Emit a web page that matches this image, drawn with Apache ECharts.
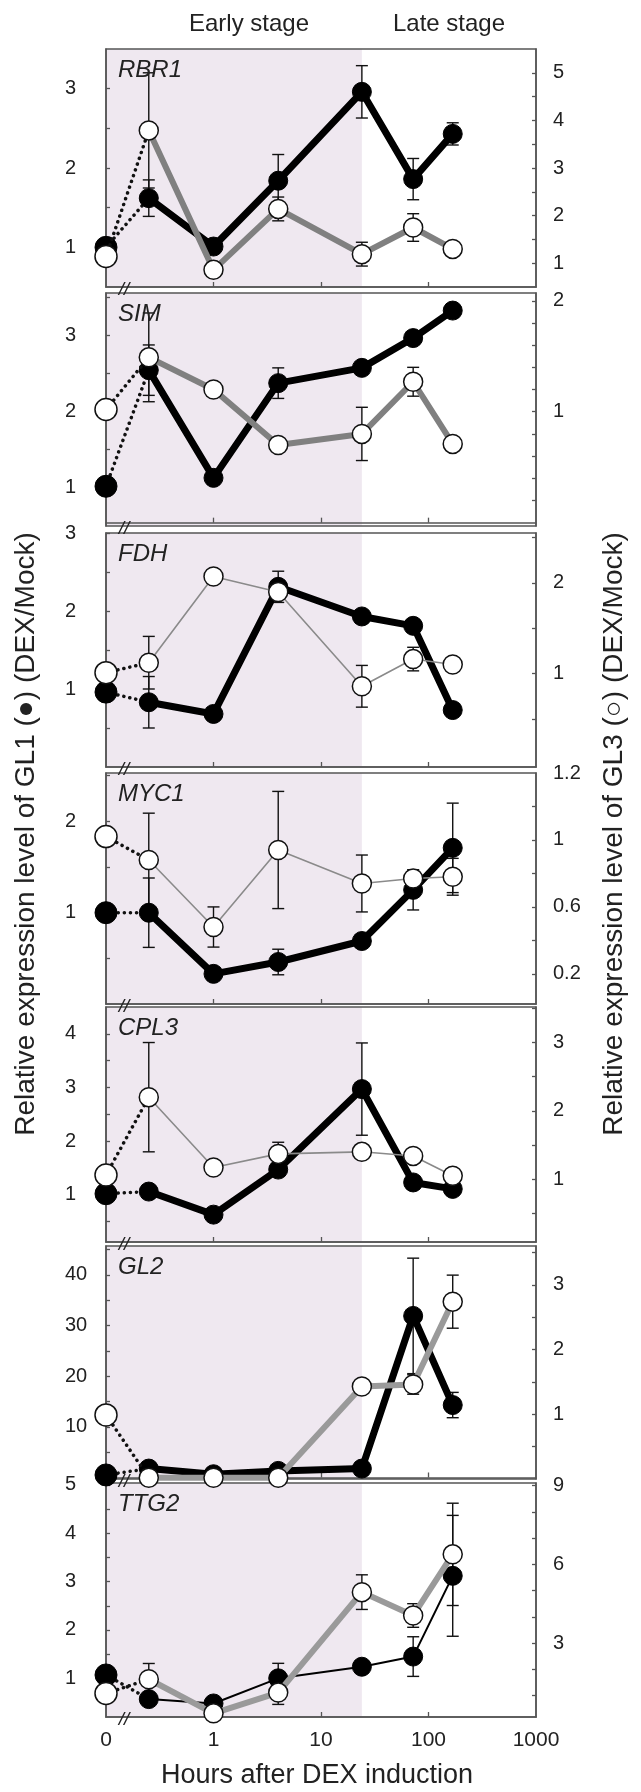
<!DOCTYPE html>
<html><head><meta charset="utf-8">
<script src="https://cdn.jsdelivr.net/npm/echarts@6/dist/echarts.min.js"></script>
<style>html,body{margin:0;padding:0;background:#fff}#c{width:641px;height:1792px}</style>
</head><body><div id="c"></div>
<script>
// ---------------- data ----------------
const HOURS = [0, 0.25, 1, 4, 24, 72, 168];          // 0 is drawn at the axis origin (0.1)
const ZERO_AT = 0.1;
const EARLY_END = 24;                                  // shaded "Early stage" up to 24 h
const X_TICKS = [1, 10, 100];
const X_LABELS = [0.1, 1, 10, 100, 1000];
const GENES = ['RBR1', 'SIM', 'FDH', 'MYC1', 'CPL3', 'GL2', 'TTG2'];

const RBR1_GL1 = [1.0, 1.62, 1.01, 1.84, 2.96, 1.86, 2.43];
const RBR1_GL1_ERR = [0, 0.23, 0, 0.33, 0.33, 0.26, 0.14];
const RBR1_GL3 = [1.14, 3.79, 0.86, 2.14, 1.19, 1.75, 1.30];
const RBR1_GL3_ERR = [0, 1.21, 0, 0.25, 0.25, 0.29, 0];

const SIM_GL1 = [1.02, 2.54, 1.13, 2.37, 2.57, 2.96, 3.32];
const SIM_GL1_ERR = [0, 0.33, 0, 0.2, 0, 0, 0];
const SIM_GL3 = [1.02, 1.49, 1.20, 0.70, 0.80, 1.27, 0.71];
const SIM_GL3_ERR = [0, 0.40, 0, 0, 0.24, 0.13, 0];

const FDH_GL1 = [0.96, 0.83, 0.68, 2.31, 1.93, 1.81, 0.73];
const FDH_GL1_ERR = [0, 0.33, 0, 0.2, 0, 0, 0];
const FDH_GL3 = [1.01, 1.12, 2.07, 1.90, 0.86, 1.16, 1.10];
const FDH_GL3_ERR = [0, 0.29, 0, 0, 0.23, 0.13, 0];

const MYC1_GL1 = [1.0, 1.0, 0.33, 0.46, 0.69, 1.25, 1.71];
const MYC1_GL1_ERR = [0, 0.38, 0, 0.14, 0, 0.22, 0.49];
const MYC1_GL3 = [1.02, 0.88, 0.48, 0.94, 0.74, 0.77, 0.78];
const MYC1_GL3_ERR = [0, 0.28, 0.12, 0.35, 0.17, 0.05, 0.11];

const CPL3_GL1 = [1.02, 1.06, 0.63, 1.47, 2.97, 1.23, 1.11];
const CPL3_GL1_ERR = [0, 0, 0, 0, 0.86, 0, 0];
const CPL3_GL3 = [1.06, 2.20, 1.17, 1.37, 1.40, 1.34, 1.05];
const CPL3_GL3_ERR = [0, 0.8, 0, 0.17, 0, 0, 0];

const GL2_GL1 = [0.5, 1.76, 0.64, 1.3, 1.76, 31.9, 14.3];
const GL2_GL1_ERR = [0, 0, 0, 0, 0, 11.4, 2.5];
const GL2_GL3 = [0.99, 0.02, 0.02, 0.02, 1.43, 1.46, 2.74];
const GL2_GL3_ERR = [0, 0, 0, 0, 0, 0.15, 0.41];

const TTG2_GL1 = [1.07, 0.57, 0.48, 1.0, 1.24, 1.45, 3.12];
const TTG2_GL1_ERR = [0, 0, 0, 0.31, 0, 0.41, 1.25];
const TTG2_GL3 = [1.08, 1.62, 0.32, 1.11, 4.94, 4.05, 6.38];
const TTG2_GL3_ERR = [0, 0.6, 0, 0.45, 0.66, 0.45, 1.95];

// axis extents, ticks and tick labels (left = GL1, right = GL3)
const LEFT_RANGES = [[0.5, 3.5], [0.5, 3.55], [0, 3], [0, 2.53], [0.12, 4.5], [-0.3, 45.7], [0.2, 5.04]];
const LEFT_TICKS = [
  [1, 1.5, 2, 2.5, 3], [1, 1.5, 2, 2.5, 3, 3.5], [0.5, 1, 1.5, 2, 2.5, 3], [0.5, 1, 1.5, 2, 2.5],
  [0.5, 1, 1.5, 2, 2.5, 3, 3.5, 4], [5, 10, 15, 20, 25, 30, 35, 40, 45], [0.5, 1, 1.5, 2, 2.5, 3, 3.5, 4, 4.5, 5]];
const LEFT_LABELS = [[1, 2, 3], [1, 2, 3], [1, 2, 3], [1, 2], [1, 2, 3, 4], [10, 20, 30, 40], [1, 2, 3, 4, 5]];
const RIGHT_RANGES = [[0.5, 5.5], [-0.03, 2.07], [-0.03, 2.55], [0.02, 1.4], [0.08, 3.52], [0, 3.6], [0.18, 9.1]];
const RIGHT_TICKS = [
  [1, 1.5, 2, 2.5, 3, 3.5, 4, 4.5, 5], [0.2, 0.4, 0.6, 0.8, 1, 1.2, 1.4, 1.6, 1.8, 2],
  [0.5, 1, 1.5, 2, 2.5], [0.2, 0.4, 0.6, 0.8, 1, 1.2], [0.5, 1, 1.5, 2, 2.5, 3, 3.5],
  [0.5, 1, 1.5, 2, 2.5, 3, 3.5], [1, 2, 3, 4, 5, 6, 7, 8, 9]];
const RIGHT_LABELS = [[1, 2, 3, 4, 5], [1, 2], [1, 2], [0.2, 0.6, 1, 1.4], [1, 2, 3], [1, 2, 3], [3, 6, 9]];
const RIGHT_LABEL_TEXT = { 3: { 1.4: '1.2' } };   // MYC1: top label printed as "1.2" in the figure

const GL1 = [RBR1_GL1, SIM_GL1, FDH_GL1, MYC1_GL1, CPL3_GL1, GL2_GL1, TTG2_GL1];
const GL1_ERR = [RBR1_GL1_ERR, SIM_GL1_ERR, FDH_GL1_ERR, MYC1_GL1_ERR, CPL3_GL1_ERR, GL2_GL1_ERR, TTG2_GL1_ERR];
const GL3 = [RBR1_GL3, SIM_GL3, FDH_GL3, MYC1_GL3, CPL3_GL3, GL2_GL3, TTG2_GL3];
const GL3_ERR = [RBR1_GL3_ERR, SIM_GL3_ERR, FDH_GL3_ERR, MYC1_GL3_ERR, CPL3_GL3_ERR, GL2_GL3_ERR, TTG2_GL3_ERR];

// ---------------- layout & style ----------------
const GRID_LEFT = 106, GRID_WIDTH = 430;
const GRID_TOPS = [49, 293, 533, 773, 1007, 1246, 1483];
const GRID_HEIGHTS = [238, 233, 234, 231, 235, 233, 234];
const GL1_WIDTH = [7, 7, 7, 7, 7, 7, 2];
const GL3_WIDTH = [6, 6, 1.6, 1.6, 1.6, 6, 6];
const GL3_COLOR = ['#808080', '#808080', '#8a8a8a', '#8a8a8a', '#8a8a8a', '#9a9a9a', '#9a9a9a'];
const FONT = "'Liberation Sans', Arial, Helvetica, sans-serif";
const AX = '#555';
const SHADE = '#efe8f0';

const xpos = h => (h === 0 ? ZERO_AT : h);
const chart = echarts.init(document.getElementById('c'), null, { renderer: 'canvas' });

const grids = [], xAxes = [], yAxes = [], series = [], graphics = [];

function errSeries(i, yIdx, vals, errs) {
  return {
    type: 'custom', xAxisIndex: i, yAxisIndex: yIdx, z: 4, silent: true, clip: false,
    data: HOURS.map((h, k) => [xpos(h), vals[k], errs[k]]).filter(d => d[2] > 0),
    renderItem: (params, api) => {
      const x = api.value(0), y = api.value(1), e = api.value(2);
      const p1 = api.coord([x, y + e]), p2 = api.coord([x, y - e]);
      const st = { stroke: '#111', lineWidth: 1.4 };
      const c = 6;
      return {
        type: 'group', children: [
          { type: 'line', shape: { x1: p1[0], y1: p1[1], x2: p2[0], y2: p2[1] }, style: st },
          { type: 'line', shape: { x1: p1[0] - c, y1: p1[1], x2: p1[0] + c, y2: p1[1] }, style: st },
          { type: 'line', shape: { x1: p2[0] - c, y1: p2[1], x2: p2[0] + c, y2: p2[1] }, style: st }
        ]
      };
    }
  };
}

GENES.forEach((gene, i) => {
  const last = i === GENES.length - 1;
  grids.push({
    left: GRID_LEFT, top: GRID_TOPS[i], width: GRID_WIDTH, height: GRID_HEIGHTS[i],
    show: true, borderColor: AX, borderWidth: 1.5, backgroundColor: 'transparent', z: 3
  });
  xAxes.push({
    type: 'log', logBase: 10, gridIndex: i, min: 0.1, max: 1000, z: 3,
    axisLine: { show: true, lineStyle: { color: AX, width: 1.5 } },
    axisTick: { show: true, inside: true, length: 5, customValues: X_TICKS, lineStyle: { color: AX, width: 1.3 } },
    axisLabel: {
      show: last, customValues: X_LABELS, margin: 13, color: '#222', fontSize: 21, fontFamily: FONT,
      formatter: v => (v < 0.5 ? '0' : String(Math.round(v)))
    },
    splitLine: { show: false }
  });
  const yBase = {
    type: 'value', gridIndex: i, z: 3, splitLine: { show: false },
    axisLine: { show: true, lineStyle: { color: AX, width: 1.5 } }
  };
  yAxes.push(Object.assign({}, yBase, {
    position: 'left', min: LEFT_RANGES[i][0], max: LEFT_RANGES[i][1],
    axisTick: { show: true, inside: true, length: 4, customValues: LEFT_TICKS[i], lineStyle: { color: AX, width: 1.3 } },
    axisLabel: { customValues: LEFT_LABELS[i], margin: 41, align: 'left', color: '#222', fontSize: 20, fontFamily: FONT,
      formatter: v => String(v) }
  }));
  const map = RIGHT_LABEL_TEXT[i] || {};
  yAxes.push(Object.assign({}, yBase, {
    position: 'right', min: RIGHT_RANGES[i][0], max: RIGHT_RANGES[i][1],
    axisTick: { show: true, inside: true, length: 4, customValues: RIGHT_TICKS[i], lineStyle: { color: AX, width: 1.3 } },
    axisLabel: { customValues: RIGHT_LABELS[i], margin: 17, align: 'left', color: '#222', fontSize: 20, fontFamily: FONT,
      formatter: v => (map[v] !== undefined ? map[v] : String(v)) }
  }));
  const yl = 2 * i, yr = 2 * i + 1;
  // shaded early stage
  series.push({
    type: 'line', xAxisIndex: i, yAxisIndex: yl, z: 1, silent: true, symbol: 'none',
    data: [[1, LEFT_RANGES[i][0]]],
    markArea: { silent: true, z: 1, itemStyle: { color: SHADE, opacity: 1 },
      data: [[{ xAxis: ZERO_AT }, { xAxis: EARLY_END }]] }
  });
  // error bars
  series.push(errSeries(i, yl, GL1[i], GL1_ERR[i]));
  series.push(errSeries(i, yr, GL3[i], GL3_ERR[i]));
  const pts = (vals) => HOURS.map((h, k) => [xpos(h), vals[k]]);
  const dotted = { type: [0.1, 6], width: 3.5, color: '#111', cap: 'round' };
  const black = { color: '#000', borderColor: '#000', borderWidth: 1, opacity: 1 };
  const white = { color: '#fff', borderColor: '#111', borderWidth: 1.5, opacity: 1 };
  // GL1 (filled)
  series.push({ type: 'line', xAxisIndex: i, yAxisIndex: yl, z: 5, silent: true, clip: false, symbol: 'none',
    data: pts(GL1[i]).slice(0, 2), lineStyle: dotted });
  series.push({ type: 'line', xAxisIndex: i, yAxisIndex: yl, z: 5, silent: true, clip: false,
    data: pts(GL1[i]).slice(1), symbol: 'circle', symbolSize: 19,
    lineStyle: { color: '#000', width: GL1_WIDTH[i], join: 'round' }, itemStyle: black });
  series.push({ type: 'scatter', xAxisIndex: i, yAxisIndex: yl, z: 5, silent: true, clip: false,
    data: pts(GL1[i]).slice(0, 1), symbolSize: 22, itemStyle: black });
  // GL3 (open)
  series.push({ type: 'line', xAxisIndex: i, yAxisIndex: yr, z: 6, silent: true, clip: false, symbol: 'none',
    data: pts(GL3[i]).slice(0, 2), lineStyle: dotted });
  series.push({ type: 'line', xAxisIndex: i, yAxisIndex: yr, z: 6, silent: true, clip: false,
    data: pts(GL3[i]).slice(1), symbol: 'circle', symbolSize: 19,
    lineStyle: { color: GL3_COLOR[i], width: GL3_WIDTH[i], join: 'round' }, itemStyle: white });
  series.push({ type: 'scatter', xAxisIndex: i, yAxisIndex: yr, z: 6, silent: true, clip: false,
    data: pts(GL3[i]).slice(0, 1), symbolSize: 22, itemStyle: white });

  // gene name and axis-break mark
  graphics.push({ type: 'text', z: 20, x: GRID_LEFT + 12, y: GRID_TOPS[i] + 21,
    style: { text: gene, font: `italic 24px ${FONT}`, fill: '#222', align: 'left', verticalAlign: 'middle' } });
  graphics.push({ type: 'text', z: 20, x: GRID_LEFT + 18, y: GRID_TOPS[i] + GRID_HEIGHTS[i] + 3,
    style: { text: '//', font: `italic 19px ${FONT}`, fill: '#222', align: 'center', verticalAlign: 'middle' } });
});

graphics.push(
  { type: 'text', z: 20, x: 249, y: 24, style: { text: 'Early stage', font: `24px ${FONT}`, fill: '#222', align: 'center', verticalAlign: 'middle' } },
  { type: 'text', z: 20, x: 449, y: 24, style: { text: 'Late stage', font: `24px ${FONT}`, fill: '#222', align: 'center', verticalAlign: 'middle' } },
  { type: 'text', z: 20, x: 317, y: 1776, style: { text: 'Hours after DEX induction', font: `27px ${FONT}`, fill: '#222', align: 'center', verticalAlign: 'middle' } },
  { type: 'text', z: 20, x: 26, y: 834, rotation: Math.PI / 2,
    style: { text: 'Relative expression level of GL1 (\u25CF) (DEX/Mock)', font: `28px ${FONT}`, fill: '#222', align: 'center', verticalAlign: 'middle' } },
  { type: 'text', z: 20, x: 614, y: 834, rotation: Math.PI / 2,
    style: { text: 'Relative expression level of GL3 (\u25CB) (DEX/Mock)', font: `28px ${FONT}`, fill: '#222', align: 'center', verticalAlign: 'middle' } }
);

chart.setOption({
  animation: false,
  backgroundColor: '#fff',
  grid: grids, xAxis: xAxes, yAxis: yAxes, series: series, graphic: graphics
});
</script></body></html>
